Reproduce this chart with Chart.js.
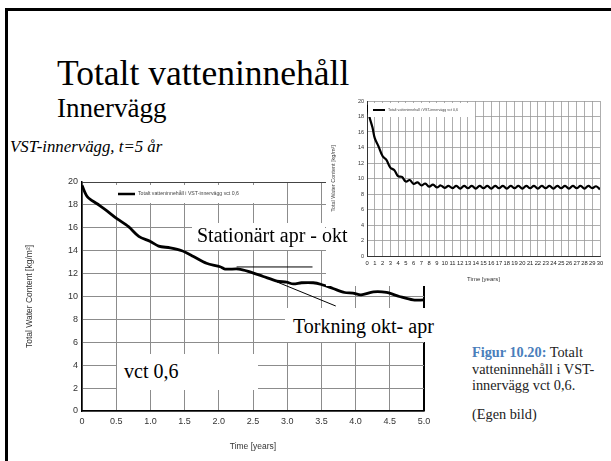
<!DOCTYPE html>
<html>
<head>
<meta charset="utf-8">
<script src="https://cdn.jsdelivr.net/npm/chart.js@4.4.0/dist/chart.umd.min.js"></script>
<style>
    body {
        margin: 0;
        width: 611px;
        height: 461px;
        background: #fff;
        position: relative;
        overflow: hidden;
        font-family: "Liberation Serif", "Times New Roman", serif;
        color: #000;
    }
    .abs { position: absolute; white-space: nowrap; }
    .frame {
        left: 5px; top: 8px; width: 620px; height: 470px;
        border-top: 3px solid #000; border-left: 3px solid #000;
    }
    .box { background: #fff; font-size: 20px; line-height: 20px; box-sizing: border-box; }
    .caption { font-size: 14.3px; line-height: 16.5px; color: #222; }
    .caption b { color: #4a7ebb; }
</style>
</head>
<body>
<div class="abs frame"></div>
<div class="abs" style="left:57px; top:56px; font-size:35.5px; line-height:35px;">Totalt vatteninnehåll</div>
<div class="abs" style="left:57px; top:95px; font-size:27px; line-height:27px;">Innervägg</div>
<div class="abs" style="left:10px; top:139px; font-size:16.8px; line-height:16px; font-style:italic;">VST-innervägg, t=5 år</div>

<div class="abs" style="left:0; top:170px; width:450px; height:290px;">
    <canvas id="mainChart" width="450" height="290"></canvas>
</div>
<div class="abs" style="left:326px; top:88px; width:285px; height:198px; background:#fff;">
    <canvas id="insetChart" width="285" height="198"></canvas>
</div>

<div class="abs box" style="left:192px; top:223px; width:133px; height:27px; padding:2px 0 0 5px;">Stationärt apr - okt</div>
<div class="abs box" style="left:285px; top:308px; width:152px; height:34px; padding:8px 0 0 8px;">Torkning okt- apr</div>
<div class="abs box" style="left:117px; top:354px; width:141px; height:36px; padding:7px 0 0 7px;">vct 0,6</div>

<div class="abs caption" style="left:472px; top:344px;"><b>Figur 10.20:</b> Totalt<br>vatteninnehåll i VST-<br>innervägg vct 0,6.</div>
<div class="abs caption" style="left:472px; top:406px;">(Egen bild)</div>

<script>
// 5 year run
const mainYears = [0, 0.08, 0.22, 0.36, 0.51, 0.68, 0.83, 1.0, 1.12, 1.29, 1.46, 1.63, 1.82, 2.02, 2.09, 2.29, 2.43, 2.65, 2.85, 2.99, 3.09, 3.21, 3.38, 3.5, 3.67, 3.84, 3.96, 4.08, 4.26, 4.45, 4.64, 4.84, 5.0];
const mainWater = [19.7, 18.7, 18.1, 17.5, 16.8, 16.1, 15.25, 14.8, 14.4, 14.25, 14.0, 13.5, 12.9, 12.6, 12.4, 12.4, 12.2, 11.75, 11.35, 11.25, 11.1, 11.2, 11.2, 11.05, 10.7, 10.35, 10.3, 10.15, 10.4, 10.35, 10.0, 9.7, 9.7];
const mainXTicks = ['0', '0.5', '1.0', '1.5', '2.0', '2.5', '3.0', '3.5', '4.0', '4.5', '5.0'];

// 30 year run (inset)
const insetYears = [0, 0.3, 0.7, 1, 1.5, 2, 2.5, 3, 3.5, 4, 4.5, 5, 5.5, 6, 6.5, 7, 7.5, 8, 8.5, 9, 9.5, 10, 10.5,
    11, 11.5, 12, 12.5, 13, 13.5, 14, 14.5, 15, 15.5, 16, 16.5, 17, 17.5, 18, 18.5, 19, 19.5, 20, 20.5,
    21, 21.5, 22, 22.5, 23, 23.5, 24, 24.5, 25, 25.5, 26, 26.5, 27, 27.5, 28, 28.5, 29, 29.5, 30];
const insetWater = [19.5, 18.0, 16.6, 15.2, 14.1, 12.9, 12.4, 11.4, 11.1, 10.3, 10.2, 9.6, 9.8, 9.3, 9.5, 9.1, 9.35, 8.95, 9.2, 8.85, 9.1, 8.8, 9.05,
    8.75, 9.05, 8.7, 9.05, 8.75, 9.05, 8.7, 9.05, 8.75, 9.05, 8.7, 9.05, 8.75, 9.05, 8.7, 9.05, 8.75, 9.05, 8.7, 9.05,
    8.75, 9.05, 8.7, 9.05, 8.75, 9.05, 8.7, 9.05, 8.75, 9.05, 8.7, 9.05, 8.75, 9.05, 8.7, 9.05, 8.75, 9.0, 8.6];

const seriesLabel = 'Totalt vatteninnehåll i VST-innervägg vct 0,6';
const yAxisTitle = 'Total Water Content [kg/m²]';
const xAxisTitle = 'Time [years]';

// annotation pointers, in data units [year, kg/m2]
const stationaryPointer = [[2.26, 12.58], [3.37, 12.58]];
const dryingPointer = [[2.85, 11.27], [3.71, 9.17]];

// small boxed legend like the WUFI export
const lineLegend = {
    id: 'lineLegend',
    afterDatasetsDraw(chart, args, opts) {
        const {ctx, chartArea} = chart;
        const b = opts.box;
        ctx.save();
        ctx.fillStyle = '#fff';
        ctx.fillRect(chartArea.left + b[0], chartArea.top + b[1], b[2], b[3]);
        const x0 = chartArea.left + opts.dx;
        const y0 = chartArea.top + opts.dy;
        ctx.strokeStyle = '#000';
        ctx.lineWidth = opts.lineWidth;
        ctx.beginPath();
        ctx.moveTo(x0, y0);
        ctx.lineTo(x0 + opts.len, y0);
        ctx.stroke();
        ctx.font = opts.size + 'px "Liberation Sans"';
        ctx.fillStyle = '#444';
        ctx.textBaseline = 'middle';
        ctx.fillText(chart.data.datasets[0].label, x0 + opts.len + 3, y0);
        ctx.restore();
    }
};

const pointerLines = {
    id: 'pointerLines',
    afterDatasetsDraw(chart, args, opts) {
        if (!opts.lines) return;
        const {ctx, scales: {x, y}} = chart;
        ctx.save();
        ctx.strokeStyle = '#000';
        ctx.lineWidth = 1;
        opts.lines.forEach(l => {
            ctx.beginPath();
            ctx.moveTo(x.getPixelForValue(l[0][0]), y.getPixelForValue(l[0][1]));
            ctx.lineTo(x.getPixelForValue(l[1][0]), y.getPixelForValue(l[1][1]));
            ctx.stroke();
        });
        ctx.restore();
    }
};

function initMainChart() {
    const ctx = document.getElementById('mainChart').getContext('2d');
    new Chart(ctx, {
        type: 'line',
        data: {
            datasets: [{
                label: seriesLabel,
                data: mainYears.map((t, i) => ({x: t, y: mainWater[i]})),
                borderColor: '#000',
                borderWidth: 2.8,
                pointRadius: 0,
                tension: 0.3,
                fill: false
            }]
        },
        plugins: [lineLegend, pointerLines],
        options: {
            responsive: false,
            animation: false,
            layout: { padding: { top: 12, right: 26, left: 0, bottom: 0 } },
            plugins: {
                legend: { display: false },
                tooltip: { enabled: false },
                lineLegend: { box: [31, 3, 152, 18], dx: 36, dy: 12, len: 17, lineWidth: 2.5, size: 5.2 },
                pointerLines: { lines: [stationaryPointer, dryingPointer] }
            },
            scales: {
                x: {
                    type: 'linear',
                    min: 0,
                    max: 5,
                    afterFit(scale) { scale.height = 49; },
                    ticks: {
                        stepSize: 0.5,
                        padding: 5,
                        maxRotation: 0,
                        autoSkip: false,
                        color: '#333',
                        font: { family: 'Liberation Sans', size: 9 },
                        callback: (v, i) => mainXTicks[i]
                    },
                    grid: {
                        drawTicks: false,
                        color: ctx => ctx.tick && ctx.tick.value === 5 ? '#000' : '#8c8c8c',
                        lineWidth: ctx => ctx.tick && ctx.tick.value === 5 ? 2 : 1
                    },
                    border: { color: '#000', width: 1.5 },
                    title: {
                        display: true,
                        text: xAxisTitle,
                        color: '#333',
                        font: { family: 'Liberation Sans', size: 8.5 },
                        padding: { top: 0, bottom: 8 }
                    }
                },
                y: {
                    min: 0,
                    max: 20,
                    afterFit(scale) { scale.width = 82; },
                    ticks: {
                        stepSize: 2,
                        padding: 4,
                        color: '#333',
                        font: { family: 'Liberation Sans', size: 9 }
                    },
                    grid: {
                        drawTicks: false,
                        color: ctx => ctx.tick && ctx.tick.value === 20 ? '#444' : '#8c8c8c',
                        lineWidth: 1
                    },
                    border: { color: '#000', width: 1.5 },
                    title: {
                        display: true,
                        text: yAxisTitle,
                        color: '#333',
                        font: { family: 'Liberation Sans', size: 8.5 },
                        padding: { top: 25, bottom: 0 }
                    }
                }
            }
        }
    });
}

function initInsetChart() {
    const ctx = document.getElementById('insetChart').getContext('2d');
    new Chart(ctx, {
        type: 'line',
        data: {
            datasets: [{
                label: seriesLabel,
                data: insetYears.map((t, i) => ({x: t, y: insetWater[i]})),
                borderColor: '#000',
                borderWidth: 2.2,
                pointRadius: 0,
                tension: 0.4,
                fill: false
            }]
        },
        plugins: [lineLegend],
        options: {
            responsive: false,
            animation: false,
            layout: { padding: { top: 13, right: 11, left: 0, bottom: 0 } },
            plugins: {
                legend: { display: false },
                tooltip: { enabled: false },
                lineLegend: { box: [1, 2, 107, 14], dx: 6, dy: 9, len: 12, lineWidth: 2, size: 3.6 }
            },
            scales: {
                x: {
                    type: 'linear',
                    min: 0,
                    max: 30,
                    afterFit(scale) { scale.height = 30; },
                    ticks: {
                        stepSize: 1,
                        padding: 4,
                        maxRotation: 0,
                        autoSkip: false,
                        color: '#222',
                        font: { family: 'Liberation Sans', size: 5.8 }
                    },
                    grid: { drawTicks: false, color: '#999', lineWidth: 0.8 },
                    border: { color: '#333', width: 1 },
                    title: {
                        display: true,
                        text: xAxisTitle,
                        color: '#333',
                        font: { family: 'Liberation Sans', size: 6 },
                        padding: { top: 0, bottom: 3 }
                    }
                },
                y: {
                    min: 0,
                    max: 20,
                    afterFit(scale) { scale.width = 41; },
                    ticks: {
                        stepSize: 2,
                        padding: 3,
                        color: '#333',
                        font: { family: 'Liberation Sans', size: 5.5 }
                    },
                    grid: { drawTicks: false, color: '#999', lineWidth: 0.8 },
                    border: { color: '#333', width: 1 },
                    title: {
                        display: true,
                        text: yAxisTitle,
                        color: '#444',
                        font: { family: 'Liberation Sans', size: 5.5 },
                        padding: { top: 4, bottom: 0 }
                    }
                }
            }
        }
    });
}

window.addEventListener('load', () => {
    initMainChart();
    initInsetChart();
});
</script>
</body>
</html>
